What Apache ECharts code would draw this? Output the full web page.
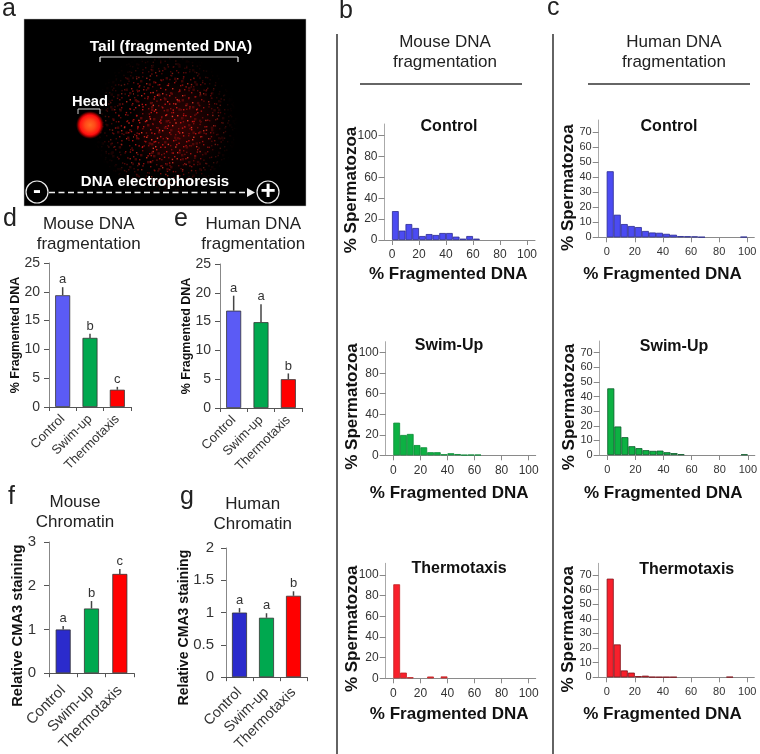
<!DOCTYPE html>
<html><head><meta charset="utf-8">
<style>html,body{margin:0;padding:0;background:#fff}#c{width:760px;height:754px}</style>
<script src="https://cdn.jsdelivr.net/npm/echarts@6/dist/echarts.min.js"></script>
</head><body><div id="c"></div>
<script>
// ---------- data ----------
const groups = ['Control', 'Swim-up', 'Thermotaxis'];
const binStarts = [0,5,10,15,20,25,30,35,40,45,50,55,60,65,70,75,80,85,90,95];

const mouseFragMean = [19.4, 12, 3];
const mouseFragErr  = [20.8, 12.7, 3.5];
const mouseFragSig  = ['a', 'b', 'c'];
const humanFragMean = [16.9, 14.9, 5];
const humanFragErr  = [19.5, 18, 6];
const humanFragSig  = ['a', 'a', 'b'];
const mouseChromMean = [1.0, 1.48, 2.27];
const mouseChromErr  = [1.08, 1.65, 2.38];
const mouseChromSig  = ['a', 'b', 'c'];
const humanChromMean = [1.0, 0.92, 1.26];
const humanChromErr  = [1.07, 0.99, 1.33];
const humanChromSig  = ['a', 'a', 'b'];

const mouseControl = [27.7,9,15.3,11.5,3.8,5.7,4.8,6.7,6.7,3.2,1.3,3.8,1.3,0,0,0,0,0,0,0];
const mouseSwim    = [31.8,19.8,20.8,10,7.8,3,3,1,2,1.2,0.4,0.6,0.6,0,0,0,0,0,0,0];
const mouseThermo  = [91,5.5,1,0,0,1.7,0,1.8,0,0,0,0,0,0,0,0,0,0,0,0];
const humanControl = [43.9,15,8.8,7.5,6.8,4.2,3.2,3,2.3,1.7,0.8,0.7,0.6,0.2,0,0,0,0,0,0.3];
const humanSwim    = [45.6,19.5,12.2,6,4.7,3.3,2.8,3,1.9,1.3,0.5,0,0,0,0,0,0,0,0,0.4];
const humanThermo  = [67.5,22.5,4.7,3.2,0.8,1.1,0.3,0.2,0.2,0.2,0,0,0,0,0,0,0,0.3,0,0];

const pctTicks = [0,20,40,60,80,100];
const humanYTicks = [0,10,20,30,40,50,60,70];

// ---------- styling ----------
const FONT = '"Liberation Sans", Arial, sans-serif';
const BLUE='#4b4bf2', GREEN='#0db143', RED='#f8202c';
const option = {animation:false, backgroundColor:'#fff', textStyle:{fontFamily:FONT},
  title:[], grid:[], xAxis:[], yAxis:[], series:[], graphic:[]};

function histogram(h){
  const i = option.grid.length, s = (h.x100-h.x0)/100;
  option.grid.push({left:h.axisX, top:h.top, width:h.end-h.axisX, height:h.y0-h.top, containLabel:false});
  option.xAxis.push({gridIndex:i, type:'value', min:(h.axisX-h.x0)/s, max:(h.end-h.x0)/s,
    name:'% Fragmented DNA', nameLocation:'middle', nameGap:h.xGap, nameMoveOverlap:false,
    nameTextStyle:{fontFamily:FONT,fontWeight:'bold',fontSize:17,color:'#111',padding:[0,h.xPad,0,0]},
    splitLine:{show:false},
    axisLine:{onZero:false,lineStyle:{color:'#8a8a8a',width:1}},
    axisTick:{show:true,length:5,customValues:pctTicks,lineStyle:{color:'#8a8a8a'}},
    axisLabel:{customValues:pctTicks,fontFamily:FONT,fontSize:h.tick,color:'#333',margin:9,hideOverlap:false,showMinLabel:true,showMaxLabel:true}});
  const u = (h.y0-h.yTop)/h.yTopVal;
  option.yAxis.push({gridIndex:i, type:'value', min:0, max:(h.y0-h.top)/u,
    name:'% Spermatozoa', nameLocation:'middle', nameGap:h.yGap, nameMoveOverlap:false,
    nameTextStyle:{fontFamily:FONT,fontWeight:'bold',fontSize:17,color:'#111',padding:[0,h.yPad,0,0]},
    splitLine:{show:false},
    axisLine:{show:true,onZero:false,lineStyle:{color:'#aaa',width:1}},
    axisTick:{show:true,length:6,customValues:h.yTicks,lineStyle:{color:'#888'}},
    axisLabel:{customValues:h.yTicks,fontFamily:FONT,fontSize:h.tick,color:'#333',margin:7}});
  option.series.push({type:'bar', xAxisIndex:i, yAxisIndex:i, barWidth:5*s,
    data:binStarts.map((b,k)=>[b+2.5,h.values[k]]).filter(d=>d[1]>0),
    itemStyle:{color:h.color,borderColor:h.edge,borderWidth:0.8}});
  option.title.push({text:h.title,left:h.titleX,top:h.titleY-6,padding:0,textAlign:'center',
    textStyle:{fontFamily:FONT,fontWeight:'bold',fontSize:16,color:'#111'}});
}

function barPanel(p){
  const i = option.grid.length;
  option.grid.push({left:p.axisX, top:p.top, width:p.end-p.axisX, height:p.y0-p.top, containLabel:false});
  option.xAxis.push({gridIndex:i,type:'category',data:groups,
    axisLine:{lineStyle:{color:'#555',width:1}},
    axisTick:{show:true,length:4,alignWithLabel:false,lineStyle:{color:'#555'}},
    axisLabel:{rotate:45,interval:0,fontFamily:FONT,fontSize:p.catSize,color:'#333',margin:p.catMargin}});
  option.yAxis.push({gridIndex:i,type:'value',min:0,max:p.max,interval:p.interval,
    name:p.yName,nameLocation:'middle',nameGap:p.yGap,nameMoveOverlap:false,
    nameTextStyle:{fontFamily:FONT,fontWeight:'bold',fontSize:p.nameSize,color:'#111',padding:[0,p.yPad||0,0,0]},
    splitLine:{show:false},
    axisLine:{show:true,lineStyle:{color:'#888',width:1}},
    axisTick:{show:true,length:5,lineStyle:{color:'#555'}},
    axisLabel:{fontFamily:FONT,fontSize:p.tick,color:'#333',margin:p.tickMargin}});
  option.series.push({type:'bar',xAxisIndex:i,yAxisIndex:i,barWidth:15,z:2,
    data:p.mean.map((v,k)=>({value:v,itemStyle:{color:p.colors[k]}})),
    itemStyle:{borderColor:'#333',borderWidth:0.8}});
  option.series.push({type:'custom',xAxisIndex:i,yAxisIndex:i,z:3,
    data:p.err.map((v,k)=>[k,v,p.mean[k],p.sig[k]]),
    renderItem:(params,api)=>{
      const top=api.coord([api.value(0),api.value(1)]), base=api.coord([api.value(0),api.value(2)]);
      return {type:'group',children:[
        {type:'line',shape:{x1:top[0],y1:top[1],x2:base[0],y2:base[1]},style:{stroke:'#444',lineWidth:1.5}},
        {type:'text',style:{text:String(p.sig[params.dataIndex]),x:top[0],y:top[1]-1,align:'center',verticalAlign:'bottom',
          font:'13px '+FONT,fill:'#333'}}]};
    }});
  option.title.push({text:p.title,left:p.titleX,top:p.titleY,padding:0,textAlign:'center',
    textStyle:{fontFamily:FONT,fontWeight:'normal',fontSize:17,lineHeight:20.5,color:'#222'}});
}

const C1=['#5b5bf5','#00a84f','#ff0000'], C2=['#2b2bcc','#00a84f','#ff0000'];
barPanel({mean:mouseFragMean,err:mouseFragErr,sig:mouseFragSig,colors:C1,axisX:49,end:131,top:263,y0:407,max:25,interval:5,
  yName:'% Fragmented DNA',yGap:26.5,nameSize:12.5,tick:14,tickMargin:9,catSize:13,catMargin:10,title:'Mouse DNA\nfragmentation',titleX:88.7,titleY:214});
barPanel({mean:humanFragMean,err:humanFragErr,sig:humanFragSig,colors:C1,axisX:220,end:302,top:264,y0:408,max:25,interval:5,
  yName:'% Fragmented DNA',yGap:26.5,nameSize:12.5,tick:14,tickMargin:9,catSize:13,catMargin:10,title:'Human DNA\nfragmentation',titleX:253.3,titleY:214});
barPanel({mean:mouseChromMean,err:mouseChromErr,sig:mouseChromSig,colors:C2,axisX:49,end:134,top:542,y0:678,max:3,interval:1,
  yName:'Relative CMA3 staining',yGap:23.5,nameSize:14.7,yPad:36,tick:15,tickMargin:13,catSize:15,catMargin:15,title:'Mouse\nChromatin',titleX:75,titleY:492});
barPanel({mean:humanChromMean,err:humanChromErr,sig:humanChromSig,colors:C2,axisX:226,end:307,top:548,y0:678,max:2,interval:0.5,
  yName:'Relative CMA3 staining',yGap:35,nameSize:14.1,yPad:30,tick:15,tickMargin:12,catSize:14.5,catMargin:13,title:'Human\nChromatin',titleX:252.7,titleY:494});

const bBase={tick:12,yTicks:pctTicks,yTopVal:100,yGap:25,xPad:23,yPad:16};
const cBase={tick:11,yTicks:humanYTicks,yTopVal:70,yGap:22,xPad:28,yPad:18};
histogram({...bBase,values:mouseControl,color:BLUE,edge:'#2a2a90',title:'Control',titleX:449,titleY:125,
  axisX:384.5,end:535,top:124,y0:240,yTop:135.7,x0:392,x100:527,xGap:26});
histogram({...bBase,values:mouseSwim,color:GREEN,edge:'#0a8a35',title:'Swim-Up',titleX:449,titleY:344,
  axisX:385.7,end:535.7,top:341.7,y0:455.3,yTop:352.7,x0:393.3,x100:528.7,xGap:30});
histogram({...bBase,values:mouseThermo,color:RED,edge:'#c02020',title:'Thermotaxis',titleX:459,titleY:566.7,
  axisX:385.7,end:535.7,top:563.3,y0:678.3,yTop:575,x0:393.3,x100:528.7,xGap:28});
histogram({...cBase,values:humanControl,color:BLUE,edge:'#2a2a90',title:'Control',titleX:669,titleY:125,
  axisX:598.7,end:754.3,top:120,y0:237.3,yTop:132,x0:606.7,x100:747.3,xGap:29});
histogram({...cBase,values:humanSwim,color:GREEN,edge:'#0a5a28',title:'Swim-Up',titleX:674,titleY:345,
  axisX:599.7,end:755,top:341,y0:455,yTop:352.7,x0:607.3,x100:748,xGap:30});
histogram({...cBase,values:humanThermo,color:RED,edge:'#801018',title:'Thermotaxis',titleX:686.7,titleY:568,
  axisX:598.7,end:754.3,top:563.3,y0:677.3,yTop:575,x0:606.7,x100:747.3,xGap:29});

// ---------- annotations: micrograph illustration, rules, panel letters ----------
const R1='#d81414',R2='#8c0c0c',R3='#ff3828',R4='#640808';
const speckles=[[2,3,R1],[7,1,R2],[13,4,R3],[19,2,R2],[26,5,R1],[33,1,R1],[38,6,R2],[4,9,R2],[10,8,R1],[16,11,R1],[23,9,R3],[29,12,R2],[36,10,R1],[1,15,R1],[8,14,R3],[14,17,R2],[20,15,R1],[27,18,R1],[33,16,R2],[39,19,R3],[5,21,R1],[11,23,R2],[18,21,R3],[24,24,R2],[31,22,R1],[37,25,R1],[3,27,R3],[9,29,R1],[15,27,R2],[22,30,R1],[28,28,R3],[35,31,R2],[6,34,R2],[12,33,R1],[19,35,R1],[25,34,R2],[32,35,R3],[39,33,R1],[17,6,R4,2],[30,7,R4,2],[6,18,R4,2],[24,13,R4,2],[35,20,R4,2],[13,26,R4,2],[28,32,R4,2]];
function speckleTile(w,h,map){
  const c=document.createElement('canvas');c.width=w;c.height=h;const g=c.getContext('2d');
  g.filter='blur(0.5px)';
  speckles.forEach(d=>{const p=map(d);g.fillStyle=d[2];g.fillRect(p[0],p[1],(d[3]||1)+.4,(d[3]||1)+.4);});
  return c;
}
const tileA=speckleTile(41,37,d=>[d[0],d[1]]);
const tileB=speckleTile(47,59,d=>[d[1]*1.27,d[0]*1.43]);
const tileC=speckleTile(67,43,d=>[(d[0]*1.63+d[1]*.4)%67,(d[1]*1.16+d[0]*.3)%43]);
const g=option.graphic;
const T=(text,x,y,font,fill,align)=>g.push({type:'text',x,y,z:20,style:{text,font:font+' '+FONT,fill:fill||'#fff',align:align||'center',verticalAlign:'middle'}});
const L=(x1,y1,x2,y2,c,w,dash)=>g.push({type:'line',z:20,shape:{x1,y1,x2,y2},style:{stroke:c,lineWidth:w,lineDash:dash||null}});
const radial=(stops)=>({type:'radial',x:.5,y:.5,r:.5,colorStops:stops.map(s=>({offset:s[0],color:s[1]}))});
const tail={cx:165,cy:124,rx:118,ry:72};
g.push({type:'rect',z:10,shape:{x:24,y:19,width:282,height:187},style:{fill:'#000',stroke:'#bbb',lineWidth:0.5}});
g.push({type:'ellipse',z:11,shape:{cx:180,cy:127,rx:72,ry:50},style:{fill:radial([[0,'rgba(140,8,8,.4)'],[.7,'rgba(100,5,5,.25)'],[1,'rgba(80,0,0,0)']])}});
[tileA,tileB,tileC].forEach(t=>g.push({type:'ellipse',z:11,shape:tail,style:{fill:{image:t,repeat:'repeat'}}}));
g.push({type:'ellipse',z:12,shape:{cx:tail.cx,cy:tail.cy,rx:tail.rx+1,ry:tail.ry+1},style:{fill:radial([[0,'rgba(0,0,0,.05)'],[.4,'rgba(0,0,0,.12)'],[.65,'rgba(0,0,0,.4)'],[.82,'rgba(0,0,0,.72)'],[.94,'rgba(0,0,0,.95)'],[1,'rgba(0,0,0,1)']])}});
g.push({type:'circle',z:14,shape:{cx:90,cy:125,r:14},style:{fill:radial([[0,'#ff6a20'],[.35,'#ff4a18'],[.7,'#ff1010'],[.82,'rgba(240,0,0,.75)'],[1,'rgba(160,0,0,0)']])}});
T('Tail (fragmented DNA)',171,47,'bold 15.5px');
L(100,62,100,57,'#eee',1.2);L(100,57,238,57,'#eee',1.2);L(238,57,238,62,'#eee',1.2);
T('Head',90,102,'bold 14.7px');
L(78,114,78,109,'#ccc',1);L(78,109,100,109,'#ccc',1);L(100,109,100,114,'#ccc',1);
T('DNA electrophoresis',155,182,'bold 15px');
L(49,192.5,246,192.5,'#eee',1.6,[6,3.5]);
g.push({type:'polygon',z:20,shape:{points:[[247,188],[255,192.5],[247,197]]},style:{fill:'#eee'}});
[[37,192],[268,192]].forEach(c=>g.push({type:'circle',z:20,shape:{cx:c[0],cy:c[1],r:11},style:{fill:'#000',stroke:'#eee',lineWidth:1.2}}));
T('-',37,191,'bold 24px');T('+',268,192,'bold 26px');

T('Mouse DNA',445,42,'17px','#222');T('fragmentation',445,62,'17px','#222');
T('Human DNA',674,42,'17px','#222');T('fragmentation',674,62,'17px','#222');
L(360,84,522,84,'#333',1.3);L(588,84,750,84,'#333',1.3);
L(337,34,337,754,'#222',1.4);L(553,34,553,754,'#222',1.4);

[['a',2,9],['b',339,11],['c',547,8],['d',3,219],['e',174,219],['f',8,497],['g',180,497]].forEach(l=>
  g.push({type:'text',x:l[1],y:l[2],z:20,style:{text:l[0],font:'25px '+FONT,fill:'#222',align:'left',verticalAlign:'middle'}}));

echarts.init(document.getElementById('c'),null,{renderer:'canvas',width:760,height:754}).setOption(option);
</script></body></html>
